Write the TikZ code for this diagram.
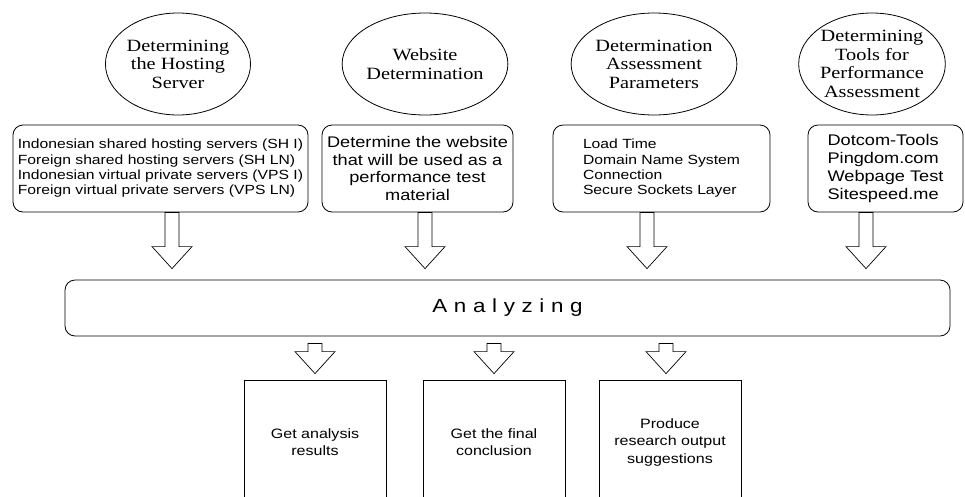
\documentclass[tikz,border=0pt]{standalone}
\usepackage{fontspec}
\setmainfont{Liberation Serif}[FakeStretch=1.18]
\setsansfont{Liberation Sans}[FakeStretch=1.18]
\usetikzlibrary{shapes.geometric, calc}

% hollow block arrow: x of #1 (+#3), starts #4 below #1, tip #5 above #2
\newcommand{\hollowarrow}[5]{%
	\draw[hollow] let \p1 = ($(#1)+(#3,0)$), \p2 = (#2) in
		(\x1-7pt,\y1-#4) -- (\x1-7pt,\y2+#5+22pt) -- (\x1-20pt,\y2+#5+22pt)
		-- (\x1,\y2+#5) -- (\x1+20pt,\y2+#5+22pt) -- (\x1+7pt,\y2+#5+22pt)
		-- (\x1+7pt,\y1-#4) -- cycle;}

\begin{document}
\begin{tikzpicture}[x=1pt, y=-1pt, line width=0.8pt,
	topic/.style={ellipse, draw, inner sep=0pt, minimum height=102pt, align=center,
		font=\rmfamily\fontsize{17.2}{18.5}\selectfont},
	listbox/.style={draw, rounded corners=10pt, inner sep=0pt, minimum height=87pt, align=left,
		font=\sffamily\fontsize{13.3}{15.3}\selectfont},
	textbox/.style={listbox, align=center, font=\sffamily\fontsize{15.4}{17.8}\selectfont},
	resultbox/.style={draw, inner sep=0pt, minimum width=142pt, minimum height=124pt, align=center,
		font=\sffamily\fontsize{13.6}{17.5}\selectfont},
	hollow/.style={draw, fill=white, line width=0.7pt}]
	\useasboundingbox (0,0) rectangle (965,496);
	\clip (0,0) rectangle (965,496);

	% Circles
	\node[topic, minimum width=114pt] (hosting) at (178,64) {Determining\\the Hosting\\Server};
	\node[topic, minimum width=116pt] (website) at (425,64) {Website\\Determination};
	\node[topic, minimum width=119pt] (params) at (654,64) {Determination\\Assessment\\Parameters};
	\node[topic, minimum width=115pt] (tools) at (872,64) {Determining\\Tools for\\Performance\\Assessment};

	% Top boxes
	\node[listbox, minimum width=295pt] (servers) at (160.5,168.5)
		{Indonesian shared hosting servers (SH I)\\Foreign shared hosting servers (SH LN)\\
		Indonesian virtual private servers (VPS I)\\Foreign virtual private servers (VPS LN)};
	\node[textbox, minimum width=191pt] (material) at (417.5,168.5)
		{Determine the website\\that will be used as a\\performance test\\material};
	\node[listbox, minimum width=217pt] (loadtime) at (661.5,168.5)
		{Load Time\\Domain Name System\\Connection\\Secure Sockets Layer};
	\node[textbox, align=left, minimum width=155pt] (testers) at (885.5,168.5)
		{Dotcom-Tools\\Pingdom.com\\Webpage Test\\Sitespeed.me};

	% Analyzing
	\node[draw, rounded corners=10pt, minimum width=885pt, minimum height=56pt,
		font=\sffamily\fontsize{19}{22}\selectfont\addfontfeature{LetterSpace=35}]
		(analyzing) at (507.5,308) {Analyzing};

	% Bottom boxes
	\node[resultbox] (results) at (315,442) {Get analysis\\results};
	\node[resultbox] (conclusion) at (494,442) {Get the final\\conclusion};
	\node[resultbox] (suggestions) at (670,442) {Produce\\research output\\suggestions};

	% Arrows into Analyzing
	\hollowarrow{servers.south}{analyzing.north}{11.5}{0pt}{11pt}
	\hollowarrow{material.south}{analyzing.north}{7.5}{0pt}{11pt}
	\hollowarrow{loadtime.south}{analyzing.north}{-14.5}{0pt}{11pt}
	\hollowarrow{testers.south}{analyzing.north}{-19.5}{0pt}{11pt}

	% Arrows out of Analyzing
	\hollowarrow{results.north |- analyzing.south}{results.north}{0}{7pt}{6pt}
	\hollowarrow{conclusion.north |- analyzing.south}{conclusion.north}{0}{7pt}{6pt}
	\hollowarrow{suggestions.north |- analyzing.south}{suggestions.north}{-4}{7pt}{6pt}
\end{tikzpicture}
\end{document}
